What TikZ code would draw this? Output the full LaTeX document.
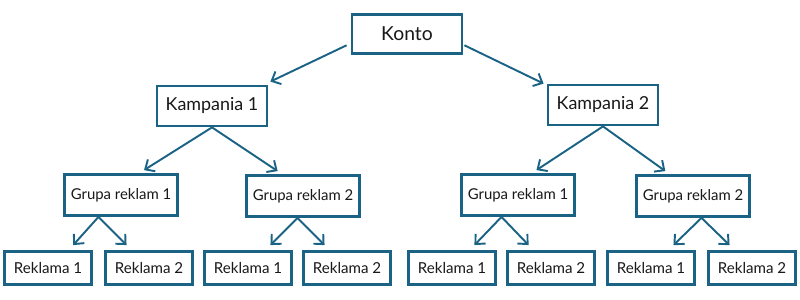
\documentclass[tikz,border=0pt]{standalone}
\usepackage{fontspec}
\setmainfont{Lato}
\usetikzlibrary{arrows.meta,calc}
\definecolor{kontoblue}{RGB}{27,99,133}

\begin{document}
\begin{tikzpicture}[x=0.02cm,y=-0.02cm,
  box/.style={draw=kontoblue,line width=1.6pt,fill=white,inner sep=0pt,text=black!90},
  acct/.style={box,minimum width=2.2cm,minimum height=0.78cm,font=\fontsize{11}{13}\selectfont},
  camp/.style={box,minimum width=2.2cm,minimum height=0.8cm,font=\fontsize{10.2}{12}\selectfont},
  grp/.style={box,minimum width=2.25cm,minimum height=0.82cm,font=\fontsize{8.5}{10}\selectfont},
  ad/.style={box,minimum width=1.74cm,minimum height=0.66cm,font=\fontsize{8.6}{10}\selectfont},
  arr/.style={draw=kontoblue,line width=1.1pt,-{Straight Barb[length=1.5mm,width=2.8mm]}}]
\useasboundingbox (0,0) rectangle (800,300);

\node[acct] (konto) at (407,34) {Konto};
\node[camp] (kamp1) at (212,106) {Kampania 1};
\node[camp] (kamp2) at (603,105) {Kampania 2};

\node[grp] (g11) at (121,195) {Grupa reklam 1};
\node[grp] (g12) at (303,196) {Grupa reklam 2};
\node[grp] (g21) at (518,195) {Grupa reklam 1};
\node[grp] (g22) at (693,196) {Grupa reklam 2};

\node[ad] (r1) at (48,268) {Reklama 1};
\node[ad] (r2) at (149,268) {Reklama 2};
\node[ad] (r3) at (248,268) {Reklama 1};
\node[ad] (r4) at (347,268) {Reklama 2};
\node[ad] (r5) at (452,268) {Reklama 1};
\node[ad] (r6) at (551,268) {Reklama 2};
\node[ad] (r7) at (651,268) {Reklama 1};
\node[ad] (r8) at (752,268) {Reklama 2};

\coordinate (m1) at ($(r1.north)!0.5!(r2.north)$);
\coordinate (m2) at ($(r3.north)!0.5!(r4.north)$);
\coordinate (m3) at ($(r5.north)!0.5!(r6.north)$);
\coordinate (m4) at ($(r7.north)!0.5!(r8.north)$);

\draw[arr] ($(konto.north west)!0.77!(konto.south west)+(-4,0)$) -- ($(kamp1.north east)+(2,-3)$);
\draw[arr] ($(konto.north east)!0.77!(konto.south east)+(1,0)$) -- ($(kamp2.north west)+(-3,0)$);

\draw[arr] (kamp1.south) -- ($(g11.north west)!0.7!(g11.north east)+(0,-3)$);
\draw[arr] (kamp1.south) -- ($(g12.north west)!0.28!(g12.north east)+(0,-3)$);
\draw[arr] (kamp2.south) -- ($(g21.north west)!0.66!(g21.north east)+(0,-3)$);
\draw[arr] (kamp2.south) -- ($(g22.north west)!0.26!(g22.north east)+(0,-3)$);

\draw[arr] (g11.south -| m1) -- ($(r1.north west)!0.78!(r1.north east)+(0,-5)$);
\draw[arr] (g11.south -| m1) -- ($(r2.north west)!0.25!(r2.north east)+(0,-5)$);
\draw[arr] (g12.south -| m2) -- ($(r3.north west)!0.75!(r3.north east)+(0,-5)$);
\draw[arr] (g12.south -| m2) -- ($(r4.north west)!0.25!(r4.north east)+(0,-5)$);
\draw[arr] (g21.south -| m3) -- ($(r5.north west)!0.75!(r5.north east)+(0,-5)$);
\draw[arr] (g21.south -| m3) -- ($(r6.north west)!0.25!(r6.north east)+(0,-5)$);
\draw[arr] (g22.south -| m4) -- ($(r7.north west)!0.75!(r7.north east)+(0,-5)$);
\draw[arr] (g22.south -| m4) -- ($(r8.north west)!0.25!(r8.north east)+(0,-5)$);
\end{tikzpicture}
\end{document}
